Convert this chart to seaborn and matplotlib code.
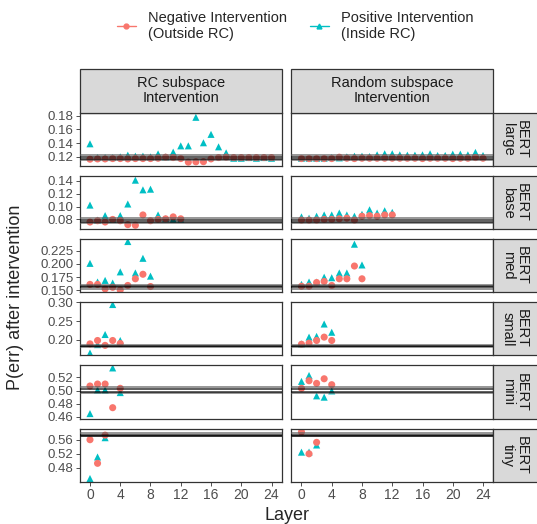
import numpy as np
import pandas as pd
import seaborn as sns
import matplotlib.pyplot as plt
from matplotlib.patches import Rectangle
from matplotlib.lines import Line2D

# facets
models = ['large', 'base', 'med', 'small', 'mini', 'tiny']
subspaces = ['RC subspace\nIntervention', 'Random subspace\nIntervention']
neg_label = 'Negative Intervention\n(Outside RC)'
pos_label = 'Positive Intervention\n(Inside RC)'

# P(err) after intervention, one value per layer
large_rc_pos = [0.139, 0.119, 0.119, 0.119, 0.120, 0.1225, 0.121, 0.121, 0.120, 0.1244, 0.120, 0.1269, 0.136,
                0.136, 0.1775, 0.1405, 0.1527, 0.1346, 0.1258, 0.118, 0.118, 0.119, 0.118, 0.119, 0.118]
large_rc_neg = [0.1166, 0.117, 0.117, 0.1175, 0.1175, 0.117, 0.1175, 0.1175, 0.1175, 0.118, 0.1195, 0.119, 0.1175,
                0.1123, 0.1128, 0.113, 0.117, 0.119, 0.1196, 0.119, 0.119, 0.119, 0.119, 0.119, 0.119]
large_rand_pos = [0.118, 0.118, 0.118, 0.118, 0.119, 0.1185, 0.120, 0.121, 0.121, 0.1205, 0.123, 0.1245, 0.1245,
                  0.123, 0.1225, 0.1225, 0.123, 0.1245, 0.122, 0.122, 0.124, 0.124, 0.123, 0.1265, 0.122]
large_rand_neg = [0.1175, 0.1175, 0.1175, 0.1175, 0.1175, 0.1195, 0.118, 0.1175, 0.118, 0.118, 0.118, 0.118, 0.118,
                  0.118, 0.118, 0.118, 0.1175, 0.118, 0.118, 0.118, 0.1175, 0.118, 0.118, 0.119, 0.118]

base_rc_pos = [0.1023, 0.079, 0.086, 0.080, 0.086, 0.104, 0.141, 0.126, 0.127, 0.087, 0.081, 0.080, 0.080]
base_rc_neg = [0.076, 0.078, 0.076, 0.080, 0.078, 0.072, 0.071, 0.087, 0.078, 0.080, 0.081, 0.084, 0.081]
base_rand_pos = [0.084, 0.082, 0.085, 0.087, 0.087, 0.090, 0.087, 0.085, 0.088, 0.095, 0.090, 0.0935, 0.091]
base_rand_neg = [0.079, 0.079, 0.079, 0.080, 0.080, 0.081, 0.082, 0.079, 0.085, 0.086, 0.085, 0.087, 0.087]

med_rc_pos = [0.201, 0.166, 0.169, 0.164, 0.185, 0.242, 0.183, 0.2105, 0.177]
med_rc_neg = [0.1615, 0.1615, 0.153, 0.156, 0.151, 0.1595, 0.172, 0.1805, 0.1575]
med_rand_pos = [0.1615, 0.166, 0.166, 0.175, 0.174, 0.183, 0.183, 0.237, 0.198]
med_rand_neg = [0.158, 0.158, 0.165, 0.167, 0.1595, 0.172, 0.172, 0.196, 0.172]

small_rc_pos = [0.1645, 0.187, 0.214, 0.294, 0.198]
small_rc_neg = [0.189, 0.198, 0.185, 0.198, 0.190]
small_rand_pos = [0.189, 0.207, 0.209, 0.242, 0.220]
small_rand_neg = [0.188, 0.191, 0.198, 0.207, 0.198]

mini_rc_pos = [0.465, 0.501, 0.501, 0.5345, 0.497]
mini_rc_neg = [0.507, 0.510, 0.510, 0.474, 0.5035]
mini_rand_pos = [0.514, 0.523, 0.492, 0.490, 0.4995]
mini_rand_neg = [0.5035, 0.515, 0.511, 0.518, 0.509]

tiny_rc_pos = [0.450, 0.511, 0.5657]
tiny_rc_neg = [0.560, 0.493, 0.573]
tiny_rand_pos = [0.5247, 0.525, 0.545]
tiny_rand_neg = [0.582, 0.520, 0.5525]

# baseline lines per model (outer band and inner band)
baseline_outer_lo = [0.1148, 0.0745, 0.1535, 0.1805, 0.4960, 0.5695]
baseline_inner_lo = [0.1168, 0.0765, 0.1562, 0.1825, 0.4985, 0.5715]
baseline_inner_hi = [0.1202, 0.0798, 0.1588, 0.1845, 0.5026, 0.5745]
baseline_outer_hi = [0.1222, 0.0822, 0.1612, 0.1865, 0.5052, 0.5785]

# y ticks per row
yticks_large = ['0.12', '0.14', '0.16', '0.18']
yticks_base = ['0.08', '0.10', '0.12', '0.14']
yticks_med = ['0.150', '0.175', '0.200', '0.225']
yticks_small = ['0.20', '0.25', '0.30']
yticks_mini = ['0.46', '0.48', '0.50', '0.52']
yticks_tiny = ['0.48', '0.52', '0.56']
xticks = [0, 4, 8, 12, 16, 20, 24]

series = {
    'large': (large_rc_pos, large_rc_neg, large_rand_pos, large_rand_neg),
    'base': (base_rc_pos, base_rc_neg, base_rand_pos, base_rand_neg),
    'med': (med_rc_pos, med_rc_neg, med_rand_pos, med_rand_neg),
    'small': (small_rc_pos, small_rc_neg, small_rand_pos, small_rand_neg),
    'mini': (mini_rc_pos, mini_rc_neg, mini_rand_pos, mini_rand_neg),
    'tiny': (tiny_rc_pos, tiny_rc_neg, tiny_rand_pos, tiny_rand_neg),
}
yticks_all = [yticks_large, yticks_base, yticks_med, yticks_small, yticks_mini, yticks_tiny]

rows = []
for m, (rc_pos, rc_neg, rd_pos, rd_neg) in series.items():
    for sp, kind, vals in [(subspaces[0], pos_label, rc_pos), (subspaces[0], neg_label, rc_neg),
                           (subspaces[1], pos_label, rd_pos), (subspaces[1], neg_label, rd_neg)]:
        for layer, v in enumerate(vals):
            rows.append({'model': m, 'space': sp, 'kind': kind, 'layer': layer, 'perr': v})
df = pd.DataFrame(rows)

sns.set_theme(style='white')
plt.rcParams['font.family'] = ['Liberation Sans', 'DejaVu Sans']

W, H = 537, 524
fig, axes = plt.subplots(6, 2, figsize=(W / 100, H / 100), dpi=100, sharex=True, sharey='row')
fig.subplots_adjust(left=80 / W, right=493 / W, top=1 - 112.7 / H, bottom=1 - 481.7 / H,
                    wspace=10 / 202, hspace=10 / 53.2)

palette = {neg_label: '#F8766D', pos_label: '#00BFC4'}
markers = {neg_label: 'o', pos_label: '^'}
# axis limits (layout only)
ylims = [(0.1069, 0.1842), (0.0651, 0.1477), (0.1468, 0.2467), (0.1583, 0.3002), (0.4575, 0.5384), (0.4409, 0.5917)]

for i, m in enumerate(models):
    for j, sp in enumerate(subspaces):
        ax = axes[i, j]
        sub = df[(df.model == m) & (df.space == sp)]
        sns.scatterplot(data=sub, x='layer', y='perr', hue='kind', style='kind', palette=palette,
                        markers=markers, s=26, linewidth=0, legend=False, ax=ax, zorder=2)
        for yv, c in [(baseline_outer_lo[i], '#5a5a5a'), (baseline_inner_lo[i], 'black'),
                      (baseline_inner_hi[i], 'black'), (baseline_outer_hi[i], '#5a5a5a')]:
            ax.axhline(yv, color=c, lw=1.1, alpha=0.8, zorder=3)
        ax.set_xlim(-1.32, 25.32)
        ax.set_ylim(ylims[i])
        ax.set_xticks(xticks)
        ax.set_xticklabels([str(t) for t in xticks])
        ax.set_yticks([float(t) for t in yticks_all[i]])
        ax.set_yticklabels(yticks_all[i])
        ax.set_xlabel('')
        ax.set_ylabel('')
        for s in ax.spines.values():
            s.set_color('#333333')
            s.set_linewidth(0.9)
        ax.tick_params(direction='out', length=3, width=0.6, color='#333333', labelcolor='#4D4D4D',
                       labelsize=10, pad=1.5, left=(j == 0), labelleft=(j == 0),
                       bottom=(i == 5), labelbottom=(i == 5))
        ax.tick_params(axis='y', labelsize=9.5)

# column strips
strip_h = 44 / H
for j, sp in enumerate(subspaces):
    bb = axes[0, j].get_position()
    fig.add_artist(Rectangle((bb.x0, bb.y1), bb.width, strip_h, transform=fig.transFigure,
                             facecolor='#D9D9D9', edgecolor='#333333', lw=0.9))
    fig.text(bb.x0 + bb.width / 2, bb.y1 + strip_h / 2, sp, ha='center', va='center',
             fontsize=10.5, color='#1A1A1A', linespacing=1.05)

# row strips
strip_w = 46 / W
for i, m in enumerate(models):
    bb = axes[i, 1].get_position()
    fig.add_artist(Rectangle((bb.x1, bb.y0), strip_w, bb.height, transform=fig.transFigure,
                             facecolor='#D9D9D9', edgecolor='#333333', lw=0.9))
    fig.text(bb.x1 + 22 / W, bb.y0 + bb.height / 2, 'BERT\n' + m, ha='center', va='center',
             rotation=-90, fontsize=10.5, color='#1A1A1A', linespacing=1.0)

# axis titles
fig.text(16 / W, 1 - 297 / H, 'P(err) after intervention', rotation=90, ha='center', va='center', fontsize=13)
fig.text(286.5 / W, 1 - 515 / H, 'Layer', ha='center', va='center', fontsize=13)

# legend
handles = [Line2D([0], [0], color=palette[neg_label], marker='o', markersize=3.5, lw=1),
           Line2D([0], [0], color=palette[pos_label], marker='^', markersize=3.5, lw=1)]
fig.legend(handles, [neg_label, pos_label], ncol=2, loc='center', bbox_to_anchor=(295 / W, 1 - 26 / H),
           frameon=False, fontsize=10.5, handlelength=1.3, handletextpad=0.8, columnspacing=1.6,
           labelspacing=0.2)

fig.savefig('out.png', dpi=100)
